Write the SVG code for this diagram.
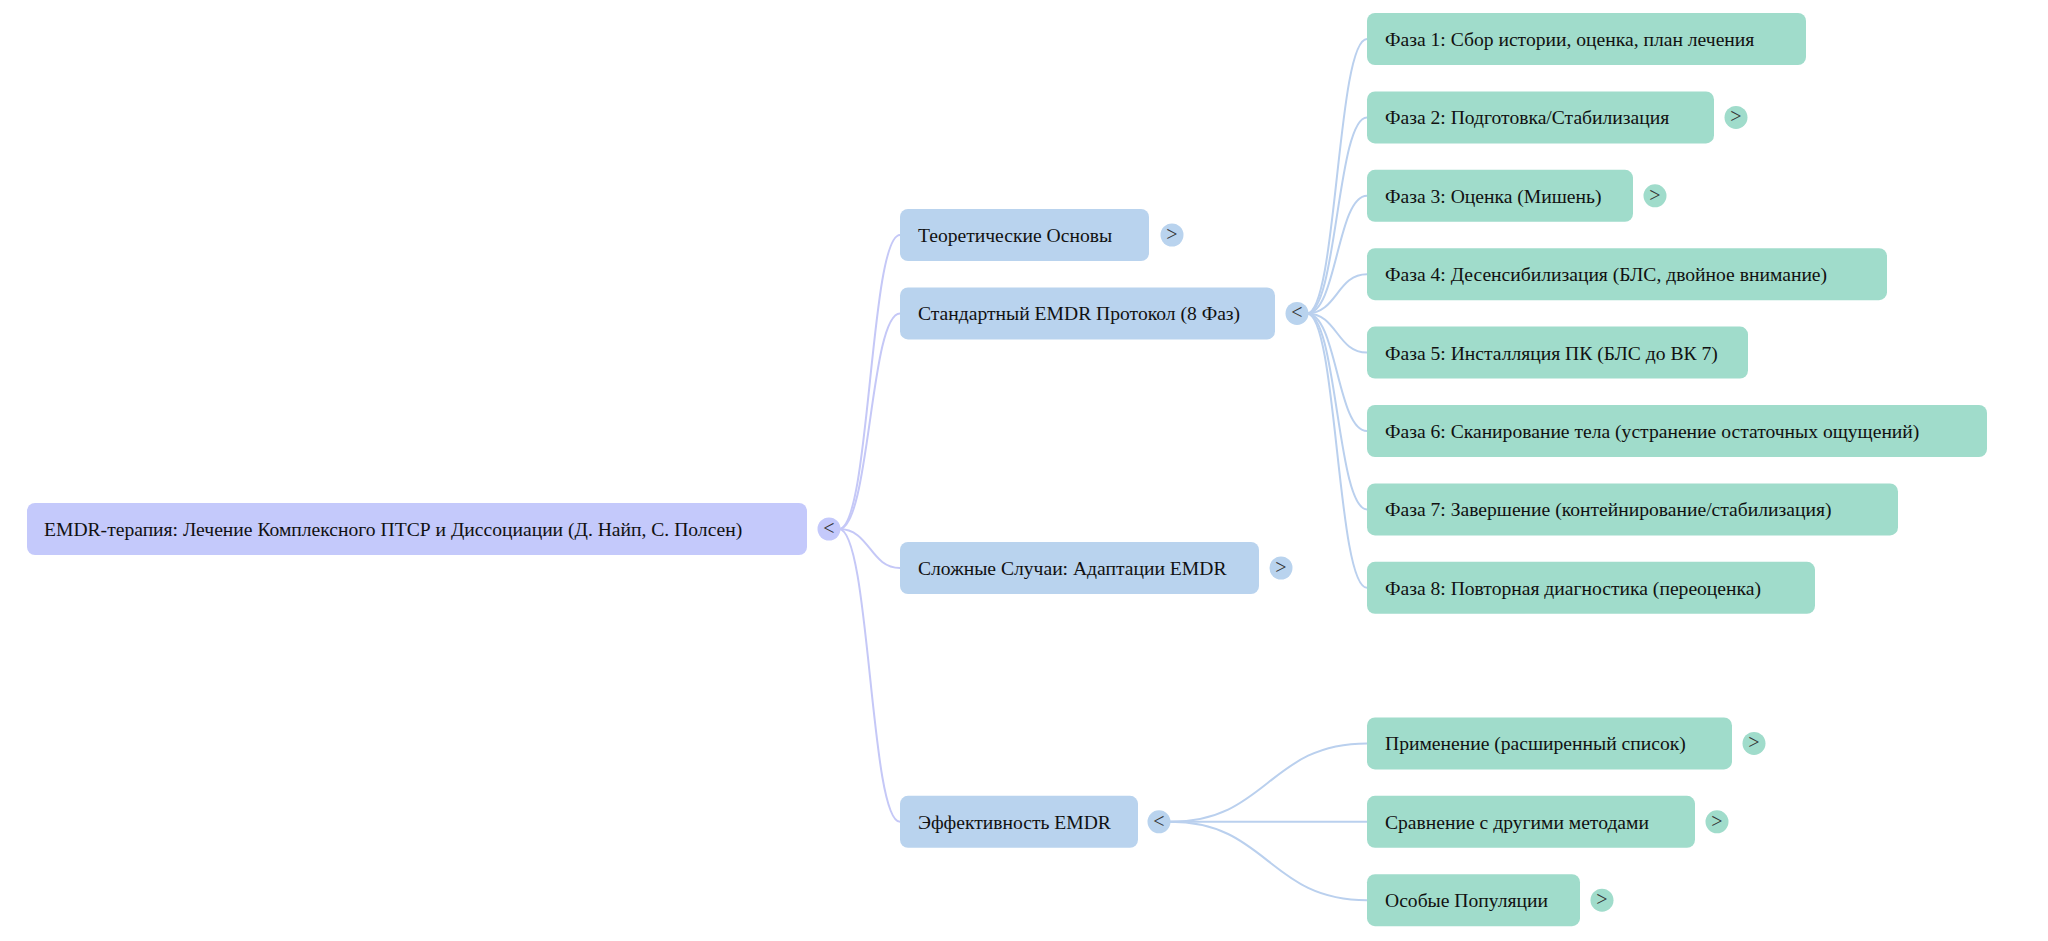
<svg xmlns="http://www.w3.org/2000/svg" width="2048" height="941" viewBox="0 0 2048 941">
<style>
text{font-family:"Liberation Serif","Times New Roman",serif;font-size:19.6px;fill:#111}
.root{fill:#c4c9fb}
.l1{fill:#b9d3ee}
.l2{fill:#a0dccb}
.cr{fill:#c4c9fb}
.c1{fill:#b9d3ee}
.c2{fill:#a0dccb}
.tg{font-family:"Liberation Serif","Times New Roman",serif;font-size:20px;fill:#333;text-anchor:middle}
.e0{fill:none;stroke:#c5c8f7;stroke-width:2}
.e1{fill:none;stroke:#bad0ee;stroke-width:2}
</style>
<rect width="2048" height="941" fill="#ffffff"/>
<g id="connectors">
<path class="e0" d="M839 529 C870 529 870 235 900 235"/>
<path class="e0" d="M839 529 C870 529 870 313.4 900 313.4"/>
<path class="e0" d="M839 529 C870 529 870 568 900 568"/>
<path class="e0" d="M839 529 C870 529 870 821.8 900 821.8"/>
<path class="e1" d="M1307 313.4 C1337 313.4 1337 39 1367 39"/>
<path class="e1" d="M1307 313.4 C1337 313.4 1337 117.4 1367 117.4"/>
<path class="e1" d="M1307 313.4 C1337 313.4 1337 195.8 1367 195.8"/>
<path class="e1" d="M1307 313.4 C1337 313.4 1337 274.2 1367 274.2"/>
<path class="e1" d="M1307 313.4 C1337 313.4 1337 352.6 1367 352.6"/>
<path class="e1" d="M1307 313.4 C1337 313.4 1337 431 1367 431"/>
<path class="e1" d="M1307 313.4 C1337 313.4 1337 509.4 1367 509.4"/>
<path class="e1" d="M1307 313.4 C1337 313.4 1337 587.8 1367 587.8"/>
<path class="e1" d="M1170 821.8 C1268 821.8 1268 743.4 1367 743.4"/>
<path class="e1" d="M1170 821.8 L1367 821.8"/>
<path class="e1" d="M1170 821.8 C1268 821.8 1268 900.2 1367 900.2"/>
</g>
<g id="root">
<rect class="root" x="27" y="503" width="780" height="52" rx="8"/>
<text x="44" y="536">EMDR-терапия: Лечение Комплексного ПТСР и Диссоциации (Д. Найп, С. Полсен)</text>
<circle class="cr" cx="829" cy="529" r="11.5"/><text class="tg" x="829" y="535">&lt;</text>
</g>
<g id="n-theory">
<rect class="l1" x="900" y="209" width="249" height="52" rx="8"/>
<text x="918" y="242">Теоретические Основы</text>
<circle class="c1" cx="1172" cy="235" r="11.5"/><text class="tg" x="1172" y="241">&gt;</text>
</g>
<g id="n-protocol">
<rect class="l1" x="900" y="287.4" width="375" height="52" rx="8"/>
<text x="918" y="320.4">Стандартный EMDR Протокол (8 Фаз)</text>
<circle class="c1" cx="1297" cy="313.4" r="11.5"/><text class="tg" x="1297" y="319.4">&lt;</text>
</g>
<g id="n-complex">
<rect class="l1" x="900" y="542" width="359" height="52" rx="8"/>
<text x="918" y="575">Сложные Случаи: Адаптации EMDR</text>
<circle class="c1" cx="1281" cy="568" r="11.5"/><text class="tg" x="1281" y="574">&gt;</text>
</g>
<g id="n-efficacy">
<rect class="l1" x="900" y="795.8" width="238" height="52" rx="8"/>
<text x="918" y="828.8">Эффективность EMDR</text>
<circle class="c1" cx="1159" cy="821.8" r="11.5"/><text class="tg" x="1159" y="827.8">&lt;</text>
</g>
<g id="n-phase1">
<rect class="l2" x="1367" y="13" width="439" height="52" rx="8"/>
<text x="1385" y="46">Фаза 1: Сбор истории, оценка, план лечения</text>
</g>
<g id="n-phase2">
<rect class="l2" x="1367" y="91.4" width="347" height="52" rx="8"/>
<text x="1385" y="124.4">Фаза 2: Подготовка/Стабилизация</text>
<circle class="c2" cx="1736" cy="117.4" r="11.5"/><text class="tg" x="1736" y="123.4">&gt;</text>
</g>
<g id="n-phase3">
<rect class="l2" x="1367" y="169.8" width="266" height="52" rx="8"/>
<text x="1385" y="202.8">Фаза 3: Оценка (Мишень)</text>
<circle class="c2" cx="1655" cy="195.8" r="11.5"/><text class="tg" x="1655" y="201.8">&gt;</text>
</g>
<g id="n-phase4">
<rect class="l2" x="1367" y="248.2" width="520" height="52" rx="8"/>
<text x="1385" y="281.2">Фаза 4: Десенсибилизация (БЛС, двойное внимание)</text>
</g>
<g id="n-phase5">
<rect class="l2" x="1367" y="326.6" width="381" height="52" rx="8"/>
<text x="1385" y="359.6">Фаза 5: Инсталляция ПК (БЛС до ВК 7)</text>
</g>
<g id="n-phase6">
<rect class="l2" x="1367" y="405" width="620" height="52" rx="8"/>
<text x="1385" y="438">Фаза 6: Сканирование тела (устранение остаточных ощущений)</text>
</g>
<g id="n-phase7">
<rect class="l2" x="1367" y="483.4" width="531" height="52" rx="8"/>
<text x="1385" y="516.4">Фаза 7: Завершение (контейнирование/стабилизация)</text>
</g>
<g id="n-phase8">
<rect class="l2" x="1367" y="561.8" width="448" height="52" rx="8"/>
<text x="1385" y="594.8">Фаза 8: Повторная диагностика (переоценка)</text>
</g>
<g id="n-apply">
<rect class="l2" x="1367" y="717.4" width="365" height="52" rx="8"/>
<text x="1385" y="750.4">Применение (расширенный список)</text>
<circle class="c2" cx="1754" cy="743.4" r="11.5"/><text class="tg" x="1754" y="749.4">&gt;</text>
</g>
<g id="n-compare">
<rect class="l2" x="1367" y="795.8" width="328" height="52" rx="8"/>
<text x="1385" y="828.8">Сравнение с другими методами</text>
<circle class="c2" cx="1717" cy="821.8" r="11.5"/><text class="tg" x="1717" y="827.8">&gt;</text>
</g>
<g id="n-special">
<rect class="l2" x="1367" y="874.2" width="213" height="52" rx="8"/>
<text x="1385" y="907.2">Особые Популяции</text>
<circle class="c2" cx="1602" cy="900.2" r="11.5"/><text class="tg" x="1602" y="906.2">&gt;</text>
</g>
</svg>
